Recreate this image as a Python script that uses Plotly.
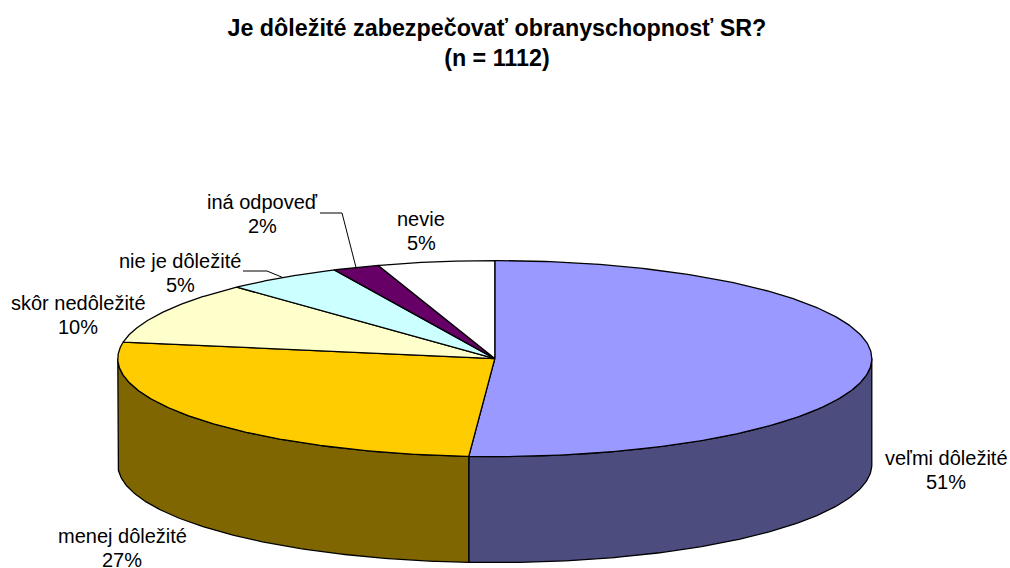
import numpy as np
import plotly.graph_objects as go

categories = ["veľmi dôležité", "menej dôležité", "skôr nedôležité", "nie je dôležité", "iná odpoveď", "nevie"]
values = [51.1, 26.6, 10.3, 5.0, 2.0, 5.0]
top_colors = ["#9999FF", "#FFCC00", "#FFFFCC", "#CCFFFF", "#660066", "#FFFFFF"]
side_colors = ["#4C4C7F", "#7F6600", "#7F7F66", "#667F7F", "#330033", "#7F7F7F"]
title_text = "Je dôležité zabezpečovať obranyschopnosť SR?<br>(n = 1112)"

# pie geometry in page pixels
CX, CY, RX, RY, DEPTH = 494.8, 358.6, 377.0, 98.0, 106.0
FONT = "Liberation Sans, Arial, sans-serif"
LINE = dict(color="#000000", width=1.3)

# centre position of each two-line label, in page pixels
label_pos = [(946, 469.5), (122, 548), (78, 315), (180, 272.5), (262, 214), (421, 230.5)]
LABEL_GAP = 12
# elbow of the leader lines: category index -> start x, elbow x, y
leaders = {3: (243, 267, 271), 4: (320, 342, 213)}


def rim(a):
    a = np.radians(a)
    return CX + RX * np.sin(a), CY - RY * np.cos(a)


fractions = np.array(values) / sum(values)
edges = np.concatenate([[0], np.cumsum(fractions)]) * 360

fig = go.Figure()

# outer walls (only the front half of the rim can be seen)
for i in range(len(values)):
    a0, a1 = max(edges[i], 90), min(edges[i + 1], 270)
    if a0 >= a1:
        continue
    arc = np.linspace(a0, a1, 160)
    x, y = rim(arc)
    fig.add_trace(go.Scatter(
        x=np.concatenate([x, x[::-1], x[:1]]),
        y=np.concatenate([y, y[::-1] + DEPTH, y[:1]]),
        mode="lines", fill="toself", fillcolor=side_colors[i], line=LINE,
        hoverinfo="skip", showlegend=False))

# top faces
for i, name in enumerate(categories):
    arc = np.linspace(edges[i], edges[i + 1], 240)
    x, y = rim(arc)
    fig.add_trace(go.Scatter(
        x=np.concatenate([[CX], x, [CX]]),
        y=np.concatenate([[CY], y, [CY]]),
        mode="lines", fill="toself", fillcolor=top_colors[i], line=LINE,
        name=name, text=f"{name}: {values[i]:.0f}%", hoverinfo="text", showlegend=False))

# leader lines
for i, (x0, x1, yy) in leaders.items():
    ex, ey = rim((edges[i] + edges[i + 1]) / 2)
    fig.add_trace(go.Scatter(
        x=[x0, x1, ex], y=[yy, yy, ey], mode="lines",
        line=dict(color="#000000", width=1), hoverinfo="skip", showlegend=False))

# labels: the two lines are placed apart so that their spacing matches
for i, name in enumerate(categories):
    lx, ly = label_pos[i]
    for text, dy in ((name, -LABEL_GAP), (f"{values[i]:.0f}%", LABEL_GAP)):
        fig.add_annotation(
            x=lx, y=ly + dy, xref="x", yref="y", showarrow=False, align="center",
            text=text, font=dict(family=FONT, size=20, color="#000000"))

fig.update_layout(
    width=1010, height=568, autosize=False,
    margin=dict(l=0, r=0, t=0, b=0),
    paper_bgcolor="#FFFFFF", plot_bgcolor="#FFFFFF",
    title=dict(text=title_text, x=0.492, xanchor="center", y=0.937, yanchor="top",
               font=dict(family=FONT, size=23.3, color="#000000", weight="bold")),
    xaxis=dict(range=[0, 1010], visible=False, fixedrange=True),
    yaxis=dict(range=[568, 0], visible=False, fixedrange=True),
)

fig.write_html("out.html", post_script="document.body.style.margin='0';",
               config={"displayModeBar": False})
